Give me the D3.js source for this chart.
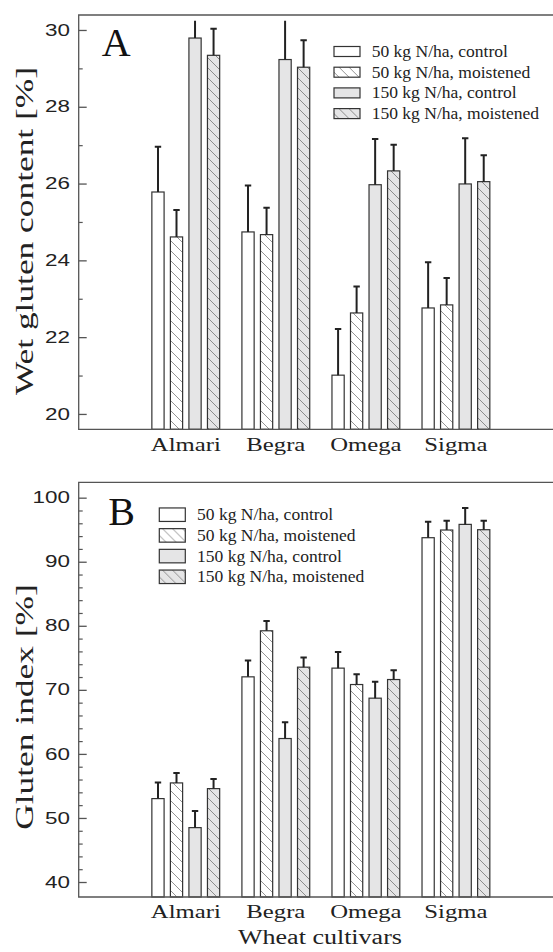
<!DOCTYPE html>
<html>
<head>
<meta charset="utf-8">
<script src="https://d3js.org/d3.v7.min.js"></script>
<style>
  html, body { margin: 0; padding: 0; background: #fff; overflow: hidden; }
  svg { display: block; }
</style>
</head>
<body>
<div id="chart"></div>
<script>
(function() {
  'use strict';

  var cultivars = ['Almari', 'Begra', 'Omega', 'Sigma'];
  var treatments = ['50 kg N/ha, control', '50 kg N/ha, moistened',
                    '150 kg N/ha, control', '150 kg N/ha, moistened'];

  // panel A - wet gluten content [%], one array per treatment (Almari, Begra, Omega, Sigma)
  var wetGluten50Control = [25.78, 24.74, 21.01, 22.76];
  var wetGluten50Moist = [24.61, 24.67, 22.63, 22.84];
  var wetGluten150Control = [29.79, 29.23, 25.97, 25.99];
  var wetGluten150Moist = [29.34, 29.03, 26.33, 26.05];
  var wetGlutenErr50Control = [1.18, 1.21, 1.20, 1.19];
  var wetGlutenErr50Moist = [0.70, 0.70, 0.69, 0.70];
  var wetGlutenErr150Control = [1.20, 1.20, 1.19, 1.19];
  var wetGlutenErr150Moist = [0.69, 0.70, 0.68, 0.69];
  var wetGlutenTicks = [20, 22, 24, 26, 28, 30];
  var wetGlutenMinor = [21, 23, 25, 27, 29];

  // panel B - gluten index [%]
  var glutenIndex50Control = [53.02, 72.03, 73.39, 93.75];
  var glutenIndex50Moist = [55.47, 79.22, 70.83, 94.95];
  var glutenIndex150Control = [48.49, 62.40, 68.70, 95.83];
  var glutenIndex150Moist = [54.58, 73.54, 71.61, 95.00];
  var glutenIndexErr50Control = [2.50, 2.55, 2.50, 2.50];
  var glutenIndexErr50Moist = [1.56, 1.51, 1.62, 1.46];
  var glutenIndexErr150Control = [2.60, 2.55, 2.55, 2.56];
  var glutenIndexErr150Moist = [1.51, 1.51, 1.46, 1.41];
  var glutenIndexTicks = [40, 50, 60, 70, 80, 90, 100];
  var glutenIndexMinor = [42, 44, 46, 48, 52, 54, 56, 58, 62, 64, 66, 68, 72, 74, 76, 78, 82, 84, 86, 88, 92, 94, 96, 98];

  var width = 553, height = 952;
  var serif = 'Liberation Serif, Times New Roman, serif';
  var sans = 'Liberation Sans, Arial, sans-serif';
  var grey = '#e5e5e6';
  var frameColor = '#555';

  var svg = d3.select('#chart').append('svg')
      .attr('width', width).attr('height', height);

  var defs = svg.append('defs');
  makeHatch('hatchWhite', '#fff');
  makeHatch('hatchGrey', grey);

  var fills = ['#fff', 'url(#hatchWhite)', grey, 'url(#hatchGrey)'];

  function makeHatch(id, bg) {
    var p = defs.append('pattern')
        .attr('id', id)
        .attr('patternUnits', 'userSpaceOnUse')
        .attr('width', 10).attr('height', 10);
    p.append('rect').attr('width', 10).attr('height', 10).attr('fill', bg);
    p.append('path')
        .attr('d', 'M0,0L10,10M-1,9L1,11M9,-1L11,1')
        .attr('stroke', '#666').attr('stroke-width', 0.7);
  }

  // stretch text along its direction, like the original figure
  function stretch(sel, k) {
    sel.each(function() {
      var w = this.getComputedTextLength();
      d3.select(this).attr('textLength', w * k).attr('lengthAdjust', 'spacingAndGlyphs');
    });
  }

  var left = 78.7, right = 563;
  var x = d3.scaleBand().domain(cultivars).range([left, right])
      .paddingInner(0).paddingOuter(0.689);
  var xInner = d3.scaleBand().domain(d3.range(4)).range([0, x.bandwidth()])
      .paddingInner(0.34).paddingOuter(0.6);

  function drawPanel(p) {
    var y = p.y;
    var top = y.range()[1], bottom = y.range()[0];
    var g = svg.append('g');

    var rows = cultivars.map(function(c, ci) {
      return p.means.map(function(arr, ti) {
        return { cultivar: c, t: ti, value: arr[ci], err: p.errs[ti][ci] };
      });
    });
    var flat = [].concat.apply([], rows);

    // bars
    g.selectAll('rect.bar')
        .data(flat)
        .enter()
        .append('rect')
        .attr('class', 'bar')
        .attr('x', function(d) { return x(d.cultivar) + xInner(d.t); })
        .attr('width', xInner.bandwidth())
        .attr('y', function(d) { return y(d.value); })
        .attr('height', function(d) { return bottom - y(d.value); })
        .attr('fill', function(d) { return fills[d.t]; })
        .attr('stroke', '#333')
        .attr('stroke-width', 1.2);

    // error bars (upper only), clipped like the original
    var clipId = 'clip' + p.name;
    defs.append('clipPath').attr('id', clipId)
        .append('rect')
        .attr('x', left).attr('y', y(p.clipMax))
        .attr('width', right - left).attr('height', bottom - y(p.clipMax));

    var eg = g.append('g').attr('clip-path', 'url(#' + clipId + ')')
        .attr('stroke', '#222').attr('stroke-width', 2).attr('fill', 'none');
    var cx = function(d) { return x(d.cultivar) + xInner(d.t) + xInner.bandwidth() / 2; };
    eg.selectAll('path.err')
        .data(flat)
        .enter()
        .append('path')
        .attr('d', function(d) {
          var xc = cx(d), y0 = y(d.value), y1 = y(d.value + d.err);
          return 'M' + xc + ',' + y0 + 'V' + y1 + 'M' + (xc - 3.2) + ',' + y1 + 'H' + (xc + 3.2);
        });

    // y axis, ticks pointing inward
    var yAxis = g.append('g')
        .attr('transform', 'translate(' + left + ',0)')
        .call(d3.axisLeft(y).tickValues(p.ticks).tickSize(-8).tickPadding(8.7));
    yAxis.select('.domain').remove();
    yAxis.selectAll('line').attr('stroke', frameColor).attr('stroke-width', 1.3);
    yAxis.selectAll('text')
        .attr('font-family', sans).attr('font-size', 16).attr('fill', '#222')
        .call(stretch, 1.4);

    var yMinor = g.append('g')
        .attr('transform', 'translate(' + left + ',0)')
        .call(d3.axisLeft(y).tickValues(p.minor).tickSize(-4).tickFormat(''));
    yMinor.select('.domain').remove();
    yMinor.selectAll('line').attr('stroke', frameColor).attr('stroke-width', 1.2);

    // x axis labels
    var xAxis = g.append('g')
        .attr('transform', 'translate(0,' + bottom + ')')
        .call(d3.axisBottom(x).tickSize(0).tickPadding(8));
    xAxis.select('.domain').remove();
    xAxis.selectAll('text')
        .attr('font-family', serif).attr('font-size', 19).attr('fill', '#222')
        .call(stretch, 1.3);

    // frame: left, top and bottom lines, running off the cropped right edge
    g.append('path')
        .attr('d', 'M' + width + ',' + top + 'H' + left + 'V' + bottom + 'H' + width)
        .attr('fill', 'none').attr('stroke', frameColor).attr('stroke-width', 1.3);

    // y title
    g.append('text')
        .attr('transform', 'translate(33,' + p.titleY + ') rotate(-90)')
        .attr('text-anchor', 'middle')
        .attr('font-family', serif).attr('font-size', 26).attr('fill', '#222')
        .text(p.title)
        .call(stretch, 1.36);

    // panel letter
    g.append('text')
        .attr('x', p.letterX).attr('y', p.letterY)
        .attr('font-family', serif).attr('font-size', 40).attr('fill', '#111')
        .text(p.name);

    // legend
    var lg = g.append('g').attr('transform', 'translate(' + p.legX + ',' + p.legY + ')');
    var item = lg.selectAll('g')
        .data(treatments)
        .enter()
        .append('g')
        .attr('transform', function(d, i) { return 'translate(0,' + (i * 20.7) + ')'; });
    item.append('rect')
        .attr('x', 0).attr('y', -p.swatchH / 2)
        .attr('width', 26).attr('height', p.swatchH)
        .attr('fill', function(d, i) { return fills[i]; })
        .attr('stroke', '#333').attr('stroke-width', 1.2);
    item.append('text')
        .attr('x', 37.7).attr('y', 5.5)
        .attr('font-family', serif).attr('font-size', 16).attr('fill', '#222')
        .text(function(d) { return d; })
        .call(stretch, 1.095);
  }

  drawPanel({
    name: 'A',
    y: d3.scaleLinear().domain([19.6, 30.39]).range([429.3, 15]),
    clipMax: 30.24,
    means: [wetGluten50Control, wetGluten50Moist, wetGluten150Control, wetGluten150Moist],
    errs: [wetGlutenErr50Control, wetGlutenErr50Moist, wetGlutenErr150Control, wetGlutenErr150Moist],
    ticks: wetGlutenTicks,
    minor: wetGlutenMinor,
    title: 'Wet gluten content [%]',
    titleY: 231,
    letterX: 101.7, letterY: 56,
    legX: 334, legY: 51.5, swatchH: 10
  });

  drawPanel({
    name: 'B',
    y: d3.scaleLinear().domain([37.66, 102.4]).range([897, 482.3]),
    clipMax: 102.4,
    means: [glutenIndex50Control, glutenIndex50Moist, glutenIndex150Control, glutenIndex150Moist],
    errs: [glutenIndexErr50Control, glutenIndexErr50Moist, glutenIndexErr150Control, glutenIndexErr150Moist],
    ticks: glutenIndexTicks,
    minor: glutenIndexMinor,
    title: 'Gluten index [%]',
    titleY: 707,
    letterX: 108.3, letterY: 525,
    legX: 159.3, legY: 514.7, swatchH: 13.5
  });

  svg.append('text')
      .attr('x', 320).attr('y', 944)
      .attr('text-anchor', 'middle')
      .attr('font-family', serif).attr('font-size', 20).attr('fill', '#222')
      .text('Wheat cultivars')
      .call(stretch, 1.3);
}).call();
</script>
</body>
</html>
